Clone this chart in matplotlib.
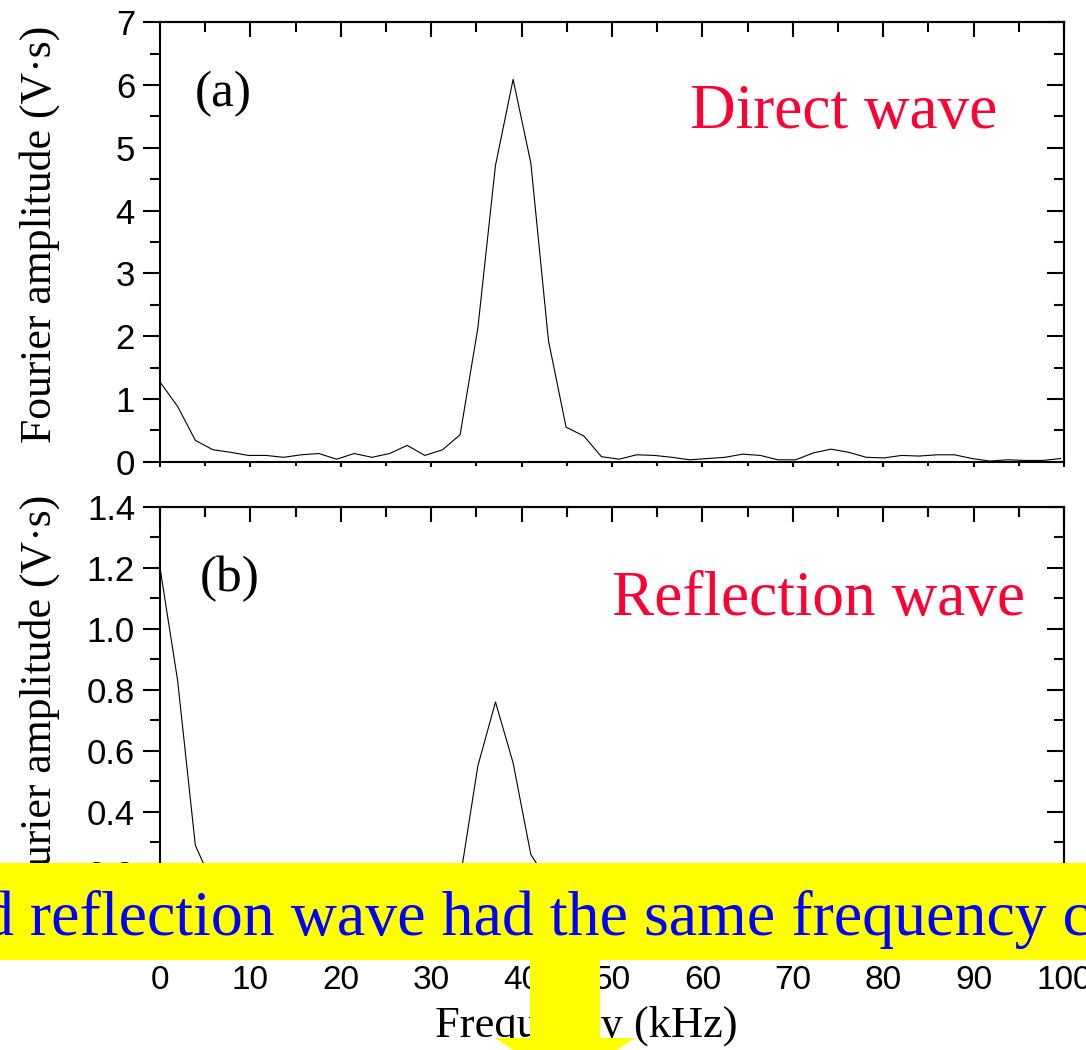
import matplotlib
matplotlib.use('Agg')
import matplotlib.pyplot as plt
from matplotlib.patches import Rectangle, Polygon
from matplotlib.ticker import MultipleLocator, NullFormatter, FixedLocator, FormatStrFormatter

# ---------------- data ----------------
freq_khz = [0.00, 1.95, 3.91, 5.86, 7.81, 9.77, 11.72, 13.67, 15.63, 17.58,
            19.53, 21.48, 23.44, 25.39, 27.34, 29.30, 31.25, 33.20, 35.16, 37.11,
            39.06, 41.02, 42.97, 44.92, 46.88, 48.83, 50.78, 52.73, 54.69, 56.64,
            58.59, 60.55, 62.50, 64.45, 66.41, 68.36, 70.31, 72.27, 74.22, 76.17,
            78.13, 80.08, 82.03, 83.98, 85.94, 87.89, 89.84, 91.80, 93.75, 95.70,
            97.66, 99.61]

direct_amp = [1.27, 0.88, 0.34, 0.19, 0.15, 0.10, 0.10, 0.07, 0.11, 0.13,
              0.04, 0.13, 0.07, 0.13, 0.26, 0.10, 0.19, 0.43, 2.13, 4.72,
              6.09, 4.76, 1.93, 0.55, 0.41, 0.08, 0.04, 0.11, 0.10, 0.07,
              0.03, 0.05, 0.07, 0.12, 0.10, 0.03, 0.03, 0.14, 0.20, 0.15,
              0.07, 0.06, 0.10, 0.09, 0.11, 0.11, 0.05, 0.01, 0.03, 0.02,
              0.02, 0.05]

reflect_amp = [1.20, 0.83, 0.29, 0.16, 0.12, 0.09, 0.08, 0.07, 0.06, 0.07,
               0.05, 0.06, 0.05, 0.06, 0.08, 0.06, 0.09, 0.18, 0.55, 0.76,
               0.56, 0.26, 0.17, 0.09, 0.07, 0.05, 0.04, 0.05, 0.04, 0.03,
               0.04, 0.03, 0.04, 0.05, 0.04, 0.03, 0.03, 0.04, 0.05, 0.04,
               0.03, 0.03, 0.04, 0.03, 0.03, 0.04, 0.03, 0.02, 0.02, 0.03,
               0.02, 0.02]

panel_tags = ['(a)', '(b)']
panel_titles = ['Direct wave', 'Reflection wave']
y_label = 'Fourier amplitude (V\u00b7s)'
x_label = 'Frequency (kHz)'
banner_text = 'd reflection wave had the same frequency c'
x_ticks = [0, 10, 20, 30, 40, 50, 60, 70, 80, 90, 100]
top_yticks = [0, 1, 2, 3, 4, 5, 6, 7]
bot_yticks = [0.0, 0.2, 0.4, 0.6, 0.8, 1.0, 1.2, 1.4]

# ---------------- layout helpers ----------------
W, H = 1086, 1050
DPI = 100
fig = plt.figure(figsize=(W / DPI, H / DPI), dpi=DPI)

def fx(px):
    return px / W

def fy(py):
    return 1 - py / H

SERIF = ['Liberation Serif', 'DejaVu Serif']
SANS = ['Liberation Sans', 'DejaVu Sans']
RED = '#FF0033'

left, right = 160, 1064
ax_top = fig.add_axes([fx(left), fy(461.7), fx(right - left), (461.7 - 22.3) / H])
ax_bot = fig.add_axes([fx(left), fy(946.0), fx(right - left), (946.0 - 506.7) / H])

def style_axis(ax, yticks, ymin, yfmt, show_xlabels):
    for s in ax.spines.values():
        s.set_linewidth(1.5)
    ax.set_xlim(0, 100)
    ax.xaxis.set_major_locator(FixedLocator(x_ticks))
    ax.xaxis.set_minor_locator(MultipleLocator(5))
    ax.yaxis.set_major_locator(FixedLocator(yticks))
    ax.yaxis.set_major_formatter(FormatStrFormatter(yfmt))
    ax.yaxis.set_minor_locator(MultipleLocator(ymin))
    ax.tick_params(axis='y', which='major', direction='out', length=12, width=1.5,
                   pad=6, labelsize=25, left=True, right=False)
    ax.tick_params(axis='y', which='minor', direction='out', length=7, width=1.5,
                   left=True, right=False)
    ax.tick_params(axis='x', which='major', direction='out', length=3.5, width=1.5,
                   pad=10, labelsize=24, bottom=True, top=False, labelbottom=show_xlabels)
    ax.tick_params(axis='x', which='minor', direction='out', length=3, width=1.5,
                   bottom=True, top=False)
    for lab in ax.get_xticklabels() + ax.get_yticklabels():
        lab.set_fontfamily(SANS)
    # top / right inward ticks
    secx = ax.secondary_xaxis('top', functions=(lambda v: v, lambda v: v))
    secx.xaxis.set_major_locator(FixedLocator(x_ticks))
    secx.xaxis.set_minor_locator(MultipleLocator(5))
    secx.xaxis.set_major_formatter(NullFormatter())
    secx.tick_params(axis='x', which='major', direction='in', length=11, width=1.5)
    secx.tick_params(axis='x', which='minor', direction='in', length=7, width=1.5)
    secx.spines['top'].set_linewidth(1.5)
    secy = ax.secondary_yaxis('right', functions=(lambda v: v, lambda v: v))
    secy.yaxis.set_major_locator(FixedLocator(yticks))
    secy.yaxis.set_minor_locator(MultipleLocator(ymin))
    secy.yaxis.set_major_formatter(NullFormatter())
    secy.tick_params(axis='y', which='major', direction='in', length=12, width=1.5)
    secy.tick_params(axis='y', which='minor', direction='in', length=7, width=1.5)
    secy.spines['right'].set_linewidth(1.5)

# top panel
ax_top.plot(freq_khz, direct_amp, color='black', linewidth=0.8)
ax_top.set_ylim(0, 7)
style_axis(ax_top, top_yticks, 0.5, '%d', False)

# bottom panel
ax_bot.plot(freq_khz, reflect_amp, color='black', linewidth=0.8)
ax_bot.set_ylim(-0.04, 1.4)
style_axis(ax_bot, bot_yticks, 0.1, '%.1f', True)

# panel tags and titles
fig.text(fx(195), fy(106), panel_tags[0], fontsize=37, family=SERIF,
         ha='left', va='baseline')
fig.text(fx(200), fy(591), panel_tags[1], fontsize=37, family=SERIF,
         ha='left', va='baseline')
fig.text(fx(690), fy(128), panel_titles[0], fontsize=45.5, family=SERIF,
         color=RED, ha='left', va='baseline')
fig.text(fx(612), fy(615), panel_titles[1], fontsize=45.5, family=SERIF,
         color=RED, ha='left', va='baseline')

# y labels
fig.text(fx(40), fy(234), y_label, fontsize=31.5, family=SERIF, rotation=90,
         ha='center', va='center', zorder=1.5)
fig.text(fx(40), fy(703), y_label, fontsize=31.5, family=SERIF, rotation=90,
         ha='center', va='center', zorder=1.5)

# x label
fig.text(fx(586), fy(1037), x_label, fontsize=32, family=SERIF,
         ha='center', va='baseline', zorder=3)

# yellow banner with blue text
fig.add_artist(Rectangle((0, fy(960)), 1, (960 - 862.5) / H,
                         transform=fig.transFigure, facecolor='#FFFF00',
                         edgecolor='none', zorder=2))
fig.text(fx(-18), fy(935), banner_text, fontsize=46, family=SERIF,
         color='#0000FF', ha='left', va='baseline', zorder=5)

# yellow down arrow
arrow_px = [(530, 958), (600, 958), (600, 1038), (635, 1038), (565, 1085),
            (495, 1038), (530, 1038)]
fig.add_artist(Polygon([(fx(x), fy(y)) for x, y in arrow_px], closed=True,
                       transform=fig.transFigure, facecolor='#FFFF00',
                       edgecolor='none', zorder=4))

fig.savefig('out.png', dpi=DPI)
